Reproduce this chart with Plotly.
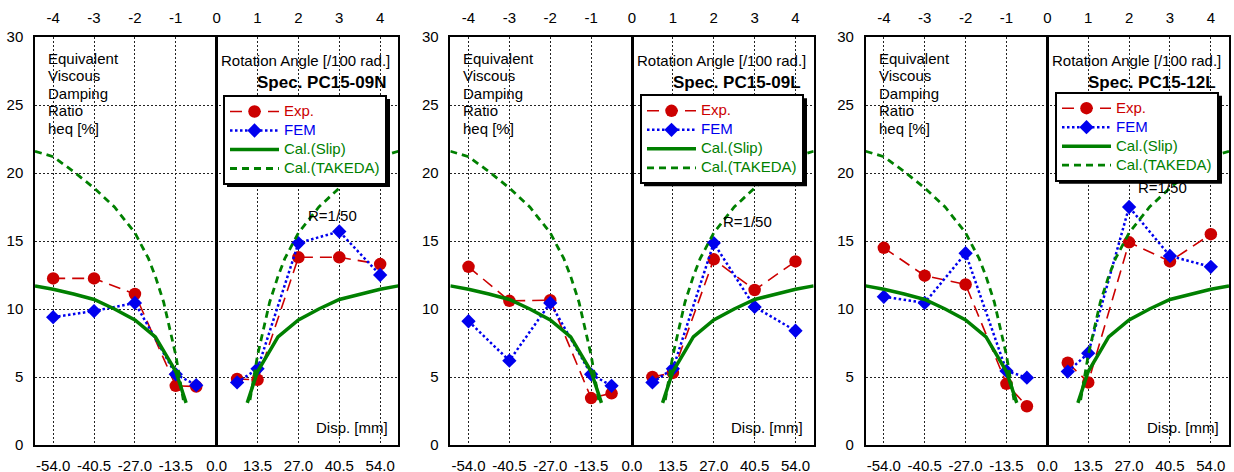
import plotly.graph_objects as go

# ---------------- data ----------------
disp = [-54, -40.5, -27, -13.5, -6.75, 6.75, 13.5, 27, 40.5, 54]

exp_09N = [12.25, 12.25, 11.1, 4.35, 4.3, 4.85, 4.8, 13.8, 13.8, 13.3]
fem_09N = [9.4, 9.85, 10.45, 5.2, 4.4, 4.6, 5.6, 14.85, 15.7, 12.5]
exp_09L = [13.1, 10.6, 10.65, 3.45, 3.8, 5.0, 5.3, 13.65, 11.4, 13.5]
fem_09L = [9.1, 6.2, 10.45, 5.2, 4.35, 4.6, 5.6, 14.85, 10.15, 8.4]
exp_12L = [14.5, 12.45, 11.8, 4.5, 2.85, 6.05, 4.6, 14.9, 13.5, 15.5]
fem_12L = [10.9, 10.45, 14.1, 5.45, 4.95, 5.4, 6.75, 17.5, 13.9, 13.1]

# calculated curves (|disp| -> heq), symmetric about 0
slip_disp = [10.1, 13.5, 17.5, 20.25, 27, 33.75, 40.5, 47.25, 54, 60]
slip_heq = [3.1, 5.4, 6.9, 7.95, 9.2, 10.0, 10.7, 11.1, 11.45, 11.7]
takeda_disp = [11.0, 13.5, 17.5, 20.25, 22.5, 27, 33.75, 40.5, 47.25, 54, 60]
takeda_heq = [3.3, 6.6, 10.5, 12.4, 13.7, 15.6, 17.5, 18.9, 20.1, 21.2, 21.6]

specimens = ["Spec. PC15-09N", "Spec. PC15-09L", "Spec. PC15-12L"]
exp_sets = [exp_09N, exp_09L, exp_12L]
fem_sets = [fem_09N, fem_09L, fem_12L]
r150_y = [16.9, 16.4, 18.9]

disp_ticks = [-54, -40.5, -27, -13.5, 0, 13.5, 27, 40.5, 54]
angle_ticks = [-4, -3, -2, -1, 0, 1, 2, 3, 4]
mm_per_angle = 13.5

# ---------------- styling ----------------
FONT = "Arial, Liberation Sans, sans-serif"
RED = "#cc0000"
BLUE = "#0000ee"
GREEN = "#008000"
W, H = 1234, 472
ML, MR, MT, MB = 35, 5, 37, 27
PW = W - ML - MR
PH = H - MT - MB
gap = 52
pw = (PW - 2 * gap) / 3


def split(xs, ys):
    """split into negative / positive branches separated by a gap"""
    ox, oy = [], []
    for i, (x, y) in enumerate(zip(xs, ys)):
        if i > 0 and xs[i - 1] < 0 <= x:
            ox.append(None)
            oy.append(None)
        ox.append(x)
        oy.append(y)
    return ox, oy


def mirror(xs, ys):
    nx = [-v for v in reversed(xs)]
    ny = list(reversed(ys))
    return nx + [None] + list(xs), ny + [None] + list(ys)


def lname(text, color):
    return f'<span style="font-size:15px;color:{color}">{text}</span>'


fig = go.Figure()
legend_names = ["legend", "legend2", "legend3"]

for p in range(3):
    xa = "x" if p == 0 else f"x{p + 1}"
    ya = "y" if p == 0 else f"y{p + 1}"
    lg = legend_names[p]

    ex, ey = split(disp, exp_sets[p])
    fig.add_trace(go.Scatter(
        x=ex, y=ey, xaxis=xa, yaxis=ya, mode="lines+markers",
        name=lname("Exp.", RED), legend=lg,
        line=dict(color=RED, width=1.6, dash="12px,7px"),
        marker=dict(symbol="circle", size=12.5, color=RED), connectgaps=False))

    fx, fy = split(disp, fem_sets[p])
    fig.add_trace(go.Scatter(
        x=fx, y=fy, xaxis=xa, yaxis=ya, mode="lines+markers",
        name=lname("FEM", BLUE), legend=lg,
        line=dict(color=BLUE, width=2.5, dash="2.5px,2.5px"),
        marker=dict(symbol="diamond", size=11, color=BLUE), connectgaps=False))

    sx, sy = mirror(slip_disp, slip_heq)
    fig.add_trace(go.Scatter(
        x=sx, y=sy, xaxis=xa, yaxis=ya, mode="lines",
        name=lname("Cal.(Slip)", GREEN), legend=lg,
        line=dict(color=GREEN, width=3.5), connectgaps=False))

    tx, ty = mirror(takeda_disp, takeda_heq)
    fig.add_trace(go.Scatter(
        x=tx, y=ty, xaxis=xa, yaxis=ya, mode="lines",
        name=lname("Cal.(TAKEDA)", GREEN), legend=lg,
        line=dict(color=GREEN, width=2.8, dash="7px,5px"), connectgaps=False))

    # top axis (rotation angle)
    fig.add_trace(go.Scatter(x=[], y=[], xaxis=f"x{p + 4}", yaxis=ya,
                             showlegend=False, hoverinfo="skip"))

    d0 = (p * (pw + gap)) / PW
    d1 = (p * (pw + gap) + pw) / PW
    axis_common = dict(
        showline=True, mirror=True, linecolor="black", linewidth=1.5,
        automargin=False,
        tickfont=dict(family=FONT, size=15, color="black"),
    )
    fig.update_layout(**{
        ("xaxis" if p == 0 else f"xaxis{p + 1}"): dict(
            domain=[d0, d1], anchor=ya, range=[-60, 60],
            tickvals=disp_ticks, ticktext=[f"{v:.1f}" for v in disp_ticks],
            showgrid=True, gridcolor="#222", griddash="2px,2px", gridwidth=1,
            zeroline=True, zerolinecolor="black", zerolinewidth=2.5,
            ticks="outside", ticklen=4, tickcolor="rgba(0,0,0,0)",
            ticklabelstandoff=2, **axis_common),
        f"xaxis{p + 4}": dict(
            overlaying=xa, anchor=ya, side="top",
            range=[-60 / mm_per_angle, 60 / mm_per_angle],
            tickvals=angle_ticks, ticktext=[str(a) for a in angle_ticks],
            showgrid=False, zeroline=False, showline=False, automargin=False,
            ticks="outside", ticklen=4, tickcolor="rgba(0,0,0,0)",
            ticklabelstandoff=3,
            tickfont=dict(family=FONT, size=15, color="black")),
        ("yaxis" if p == 0 else f"yaxis{p + 1}"): dict(
            domain=[0, 1], anchor=xa, range=[0, 30], dtick=5,
            showgrid=True, gridcolor="#222", griddash="2px,2px", gridwidth=1,
            zeroline=False, ticks="outside", ticklen=4,
            tickcolor="rgba(0,0,0,0)", ticklabelstandoff=3, **axis_common),
    })

    # texts
    for i, line in enumerate(["Equivalent", "Viscous", "Damping", "Ratio", "heq [%]"]):
        fig.add_annotation(x=-56.4, y=28.43 - i * 1.285, xref=xa, yref=ya,
                           text=line, showarrow=False, xanchor="left",
                           yanchor="middle",
                           font=dict(family=FONT, size=15, color="black"))
    fig.add_annotation(x=58.0, y=28.24, xref=xa, yref=ya,
                       text="Rotation Angle [/100 rad.]", showarrow=False,
                       xanchor="right", yanchor="middle",
                       font=dict(family=FONT, size=15, color="black"))
    fig.add_annotation(x=56.5, y=26.69, xref=xa, yref=ya,
                       text=f"<b>{specimens[p]}</b>", showarrow=False,
                       xanchor="right", yanchor="middle",
                       font=dict(family=FONT, size=17, color="black"))
    fig.add_annotation(x=38.2, y=r150_y[p], xref=xa, yref=ya,
                       text="R=1/50", showarrow=False,
                       xanchor="center", yanchor="middle",
                       font=dict(family=FONT, size=15, color="black"))
    fig.add_annotation(x=57.3, y=1.32, xref=xa, yref=ya,
                       text="Disp. [mm]", showarrow=False,
                       xanchor="right", yanchor="middle",
                       font=dict(family=FONT, size=15, color="black"))

# legends with drop shadow
leg_left_px = [223, 640, 1055]
leg_top_px = [95, 94.3, 91.7]
leg_w, leg_h = 163, 88
for p in range(3):
    lx = (leg_left_px[p] - ML) / PW
    ly = 1 - (leg_top_px[p] - MT) / PH
    fig.update_layout(**{legend_names[p]: dict(
        x=lx, y=ly, xanchor="left", yanchor="top",
        bgcolor="white", bordercolor="black", borderwidth=2,
        font=dict(family=FONT, size=11.5, color=GREEN),
        itemwidth=49, tracegroupgap=0, traceorder="normal")})
    sx0 = (leg_left_px[p] + 4 - ML) / PW
    sx1 = (leg_left_px[p] + 4 + leg_w - ML) / PW
    sy0 = 1 - (leg_top_px[p] + 4 - MT) / PH
    sy1 = 1 - (leg_top_px[p] + 4 + leg_h - MT) / PH
    fig.add_shape(type="rect", xref="paper", yref="paper",
                  x0=sx0, x1=sx1, y0=sy1, y1=sy0,
                  fillcolor="black", line=dict(width=0), layer="above")

fig.update_layout(
    width=W, height=H,
    margin=dict(l=ML, r=MR, t=MT, b=MB, autoexpand=False),
    paper_bgcolor="white", plot_bgcolor="white",
    showlegend=True,
    font=dict(family=FONT, size=15, color="black"),
)

fig.write_html("out.html",
               config={"displayModeBar": False},
               post_script="document.body.style.margin='0';"
                           "document.body.style.overflow='hidden';")
